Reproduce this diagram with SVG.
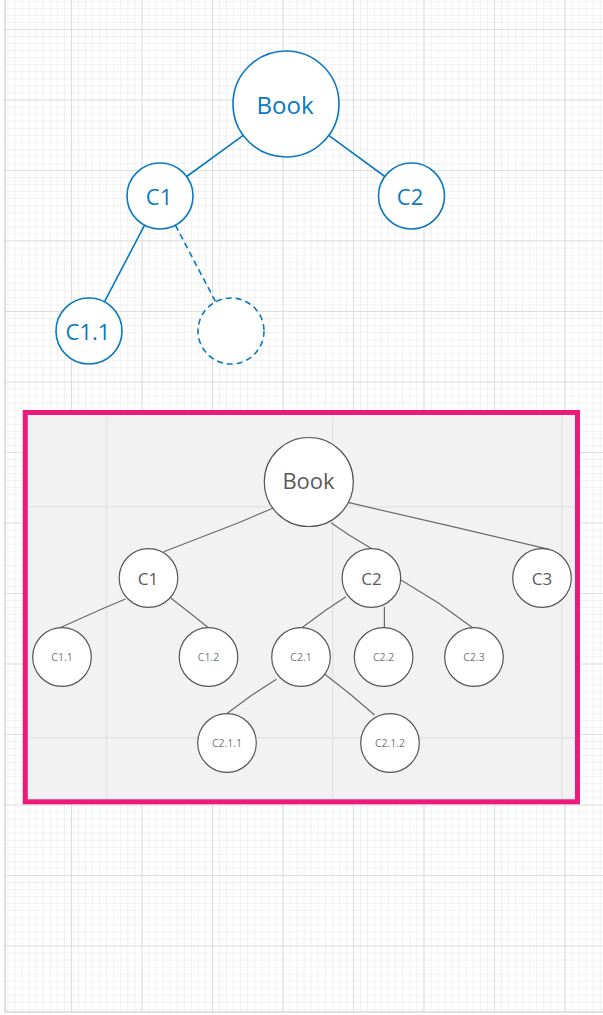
<svg xmlns="http://www.w3.org/2000/svg" width="603" height="1015" viewBox="0 0 603 1015">
  <style>
    .blue-node { fill: #ffffff; stroke: #0a78c2; stroke-width: 1.6; }
    .blue-edge { stroke: #0a78c2; stroke-width: 1.6; fill: none; }
    .dashed { stroke-dasharray: 6 4; }
    .blue-label { fill: #0a78c2; font-family: "Open Sans", "Noto Sans", sans-serif; text-anchor: middle; }
    .sk-node { fill: #ffffff; stroke: #555555; stroke-width: 1.2; }
    .sk-edge { stroke: #6a6a6a; stroke-width: 1.2; fill: none; stroke-linejoin: round; }
    .sk-label { fill: #5a5a5a; font-family: "Open Sans", "Noto Sans", sans-serif; text-anchor: middle; }
    .sk-small { fill: #777777; font-size: 10.5px; }
    .panel-grid { stroke: #e4e4e4; stroke-width: 1.5; }
  </style>
  <defs>
    <pattern id="minorGrid" patternUnits="userSpaceOnUse" x="0.5" y="29" width="7.05" height="7.05">
      <path d="M0 0H7.05M0 0V7.05" stroke="#e4e4e4" stroke-width="1" fill="none"/>
    </pattern>
    <pattern id="majorGrid" patternUnits="userSpaceOnUse" x="0.5" y="29" width="70.5" height="70.5">
      <path d="M0 0H70.5M0 0V70.5" stroke="#d8d8d8" stroke-width="1.6" fill="none"/>
    </pattern>
  </defs>

  <!-- page background with graph-paper grid -->
  <rect x="0" y="0" width="603" height="1015" fill="#ffffff"/>
  <rect x="5" y="0" width="598" height="1012" fill="url(#minorGrid)"/>
  <rect x="5" y="0" width="598" height="1012" fill="url(#majorGrid)"/>
  <path d="M5 0V1012H603" stroke="#d6d6d6" stroke-width="1.6" fill="none"/>

  <!-- upper tree: connectors -->
  <g id="connectors-top">
    <line class="blue-edge" x1="243.2" y1="135.3" x2="186.7" y2="176.5"/>
    <line class="blue-edge" x1="328.7" y1="135.3" x2="384.9" y2="176.5"/>
    <line class="blue-edge" x1="144.6" y1="225.2" x2="104.4" y2="301.8"/>
    <line class="blue-edge dashed" x1="175.4" y1="225.2" x2="215.6" y2="301.8"/>
  </g>

  <!-- upper tree: nodes -->
  <g id="top-book">
    <circle class="blue-node" cx="286" cy="104" r="53"/>
    <text class="blue-label" x="285" y="114" font-size="24">Book</text>
  </g>
  <g id="top-c1">
    <circle class="blue-node" cx="160" cy="196" r="33"/>
    <text class="blue-label" x="159" y="204.5" font-size="22">C1</text>
  </g>
  <g id="top-c2">
    <circle class="blue-node" cx="411.5" cy="196" r="33"/>
    <text class="blue-label" x="410" y="204.5" font-size="22">C2</text>
  </g>
  <g id="top-c1-1">
    <circle class="blue-node" cx="89" cy="331" r="33"/>
    <text class="blue-label" x="88" y="339.5" font-size="22">C1.1</text>
  </g>
  <g id="top-placeholder">
    <circle class="blue-node dashed" cx="231" cy="331" r="33"/>
  </g>

  <!-- lower panel -->
  <g id="panel">
    <rect x="25.3" y="412.5" width="552.2" height="389.3" fill="#f2f2f2"/>
    <line class="panel-grid" x1="106.5" y1="415" x2="106.5" y2="799"/>
    <line class="panel-grid" x1="332.7" y1="415" x2="332.7" y2="799"/>
    <line class="panel-grid" x1="561.8" y1="415" x2="561.8" y2="799"/>
    <line class="panel-grid" x1="28" y1="506.7" x2="575" y2="506.7"/>
    <line class="panel-grid" x1="28" y1="737.7" x2="575" y2="737.7"/>
  </g>

  <!-- lower tree: connectors -->
  <g id="connectors-bottom">
    <polyline class="sk-edge" points="272.7,508.3 238,523 163.6,551.7"/>
    <polyline class="sk-edge" points="331,522.7 349,535 371,548.3"/>
    <polyline class="sk-edge" points="349,502.7 452.7,526.7 549,549.3"/>
    <polyline class="sk-edge" points="125.5,599 103.6,608.3 60,627.7"/>
    <polyline class="sk-edge" points="171,598.3 190,613 208.4,627.7"/>
    <polyline class="sk-edge" points="346,596.7 326,610 301.8,627.7"/>
    <polyline class="sk-edge" points="384.4,606.7 384.4,627.7"/>
    <polyline class="sk-edge" points="401,580 438,602.7 472.7,627.7"/>
    <polyline class="sk-edge" points="276.4,679.3 252,695 227.3,713.3"/>
    <polyline class="sk-edge" points="323.6,673.3 350,694 374.5,715"/>
  </g>

  <!-- lower tree: nodes -->
  <g id="book">
    <circle class="sk-node" cx="308.8" cy="482" r="44.5"/>
    <text class="sk-label" x="308.5" y="488.5" font-size="22">Book</text>
  </g>
  <g id="c1">
    <circle class="sk-node" cx="148.5" cy="578" r="29.3"/>
    <text class="sk-label" x="148" y="584.5" font-size="17">C1</text>
  </g>
  <g id="c2">
    <circle class="sk-node" cx="371.4" cy="578" r="29.3"/>
    <text class="sk-label" x="371.5" y="584.5" font-size="17">C2</text>
  </g>
  <g id="c3">
    <circle class="sk-node" cx="542" cy="578" r="29.3"/>
    <text class="sk-label" x="542" y="584.5" font-size="17">C3</text>
  </g>
  <g id="c1-1">
    <circle class="sk-node" cx="62" cy="657" r="29.3"/>
    <text class="sk-label sk-small" x="62" y="660.5">C1.1</text>
  </g>
  <g id="c1-2">
    <circle class="sk-node" cx="208.5" cy="657" r="29.3"/>
    <text class="sk-label sk-small" x="208.5" y="660.5">C1.2</text>
  </g>
  <g id="c2-1">
    <circle class="sk-node" cx="301" cy="657" r="29.3"/>
    <text class="sk-label sk-small" x="301" y="660.5">C2.1</text>
  </g>
  <g id="c2-2">
    <circle class="sk-node" cx="383.6" cy="657" r="29.3"/>
    <text class="sk-label sk-small" x="383.6" y="660.5">C2.2</text>
  </g>
  <g id="c2-3">
    <circle class="sk-node" cx="474" cy="657" r="29.3"/>
    <text class="sk-label sk-small" x="474" y="660.5">C2.3</text>
  </g>
  <g id="c2-1-1">
    <circle class="sk-node" cx="227" cy="743" r="29.3"/>
    <text class="sk-label sk-small" x="227" y="746.7">C2.1.1</text>
  </g>
  <g id="c2-1-2">
    <circle class="sk-node" cx="390" cy="743" r="29.3"/>
    <text class="sk-label sk-small" x="390" y="746.7">C2.1.2</text>
  </g>

  <!-- highlight frame around the lower panel -->
  <rect id="frame" x="25.3" y="412.5" width="552.2" height="389.3" fill="none" stroke="#ec1a78" stroke-width="5"/>
</svg>
